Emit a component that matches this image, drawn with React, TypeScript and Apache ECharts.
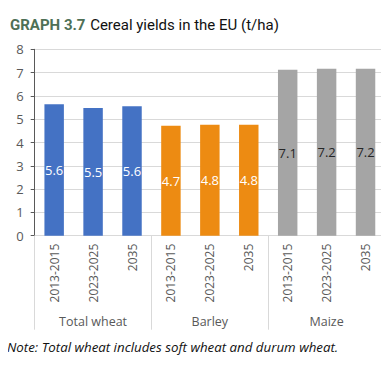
import React, { useEffect, useRef } from "react";
import * as echarts from "echarts";

const groups = ["Total wheat", "Barley", "Maize"];
const periods = ["2013-2015", "2023-2025", "2035"];
const totalWheat = [5.64, 5.48, 5.56];
const barley = [4.72, 4.76, 4.76];
const maize = [7.12, 7.16, 7.16];
const groupColors = ["#4472C4", "#ED8B12", "#A5A5A5"];
const labelColors = ["#ffffff", "#ffffff", "#262626"];
const yTicks = [0, 1, 2, 3, 4, 5, 6, 7, 8];

export default function App() {
  const ref = useRef<HTMLDivElement>(null);
  useEffect(() => {
    if (!ref.current) return;
    const chart = echarts.init(ref.current, null, { renderer: "svg" });
    const seriesValues = [totalWheat, barley, maize];
    const categories: string[] = [];
    const data: any[] = [];
    seriesValues.forEach((vals, gi) => {
      vals.forEach((v, pi) => {
        categories.push(periods[pi]);
        data.push({
          value: v,
          itemStyle: { color: groupColors[gi] },
          label: { color: labelColors[gi] },
        });
      });
    });
    const font = "'Open Sans', 'Noto Sans', sans-serif";
    const titleFont = "'Liberation Sans Narrow', 'Roboto', sans-serif";
    chart.setOption({
      animation: false,
      textStyle: { fontFamily: font },
      title: {
        left: 5,
        top: 11,
        text: "{a|GRAPH 3.7} {b|Cereal yields in the EU (t/ha)}",
        textStyle: {
          fontWeight: "normal",
          rich: {
            a: { fontFamily: titleFont, fontWeight: "bold", fontSize: 15, color: "#4e7056" },
            b: { fontFamily: titleFont, fontWeight: "normal", fontSize: 15, color: "#111111" },
          },
        },
      },
      graphic: [
        {
          type: "text",
          x: 7,
          y: 340,
          style: {
            text: "Note: Total wheat includes soft wheat and durum wheat.",
            fontFamily: font,
            fontStyle: "italic",
            fontSize: 13.3,
            fill: "#111111",
          },
        },
      ],
      grid: { left: 34.7, right: 4, top: 49.3, bottom: 137.3, containLabel: false },
      xAxis: [
        {
          type: "category",
          data: categories,
          axisLine: { lineStyle: { color: "#d9d9d9" } },
          axisTick: {
            show: true,
            interval: (i: number) => i % 3 === 0,
            length: 94,
            lineStyle: { color: "#d9d9d9" },
          },
          axisLabel: {
            interval: 0,
            rotate: 90,
            margin: 8,
            color: "#595959",
            fontSize: 12,
            fontFamily: font,
          },
        },
        {
          type: "category",
          data: groups,
          position: "bottom",
          axisLine: { show: false },
          axisTick: { show: false },
          axisLabel: { margin: 79, color: "#595959", fontSize: 12.5, fontFamily: font },
        },
      ],
      yAxis: {
        type: "value",
        min: yTicks[0],
        max: yTicks[yTicks.length - 1],
        interval: 1,
        axisLine: { show: true, lineStyle: { color: "#595959" } },
        axisTick: { show: true, length: 4, lineStyle: { color: "#595959" } },
        splitLine: { lineStyle: { color: "#d9d9d9" } },
        axisLabel: { margin: 11, color: "#595959", fontSize: 13, fontFamily: font },
      },
      series: [
        {
          type: "bar",
          xAxisIndex: 0,
          data,
          barWidth: "50%",
          label: {
            show: true,
            position: "inside",
            fontSize: 13,
            fontFamily: font,
            formatter: (p: any) => Number(p.value).toFixed(1),
          },
        },
      ],
    });
    return () => chart.dispose();
  }, []);
  return <div ref={ref} style={{ width: 389, height: 373, margin: -8 }} />;
}
